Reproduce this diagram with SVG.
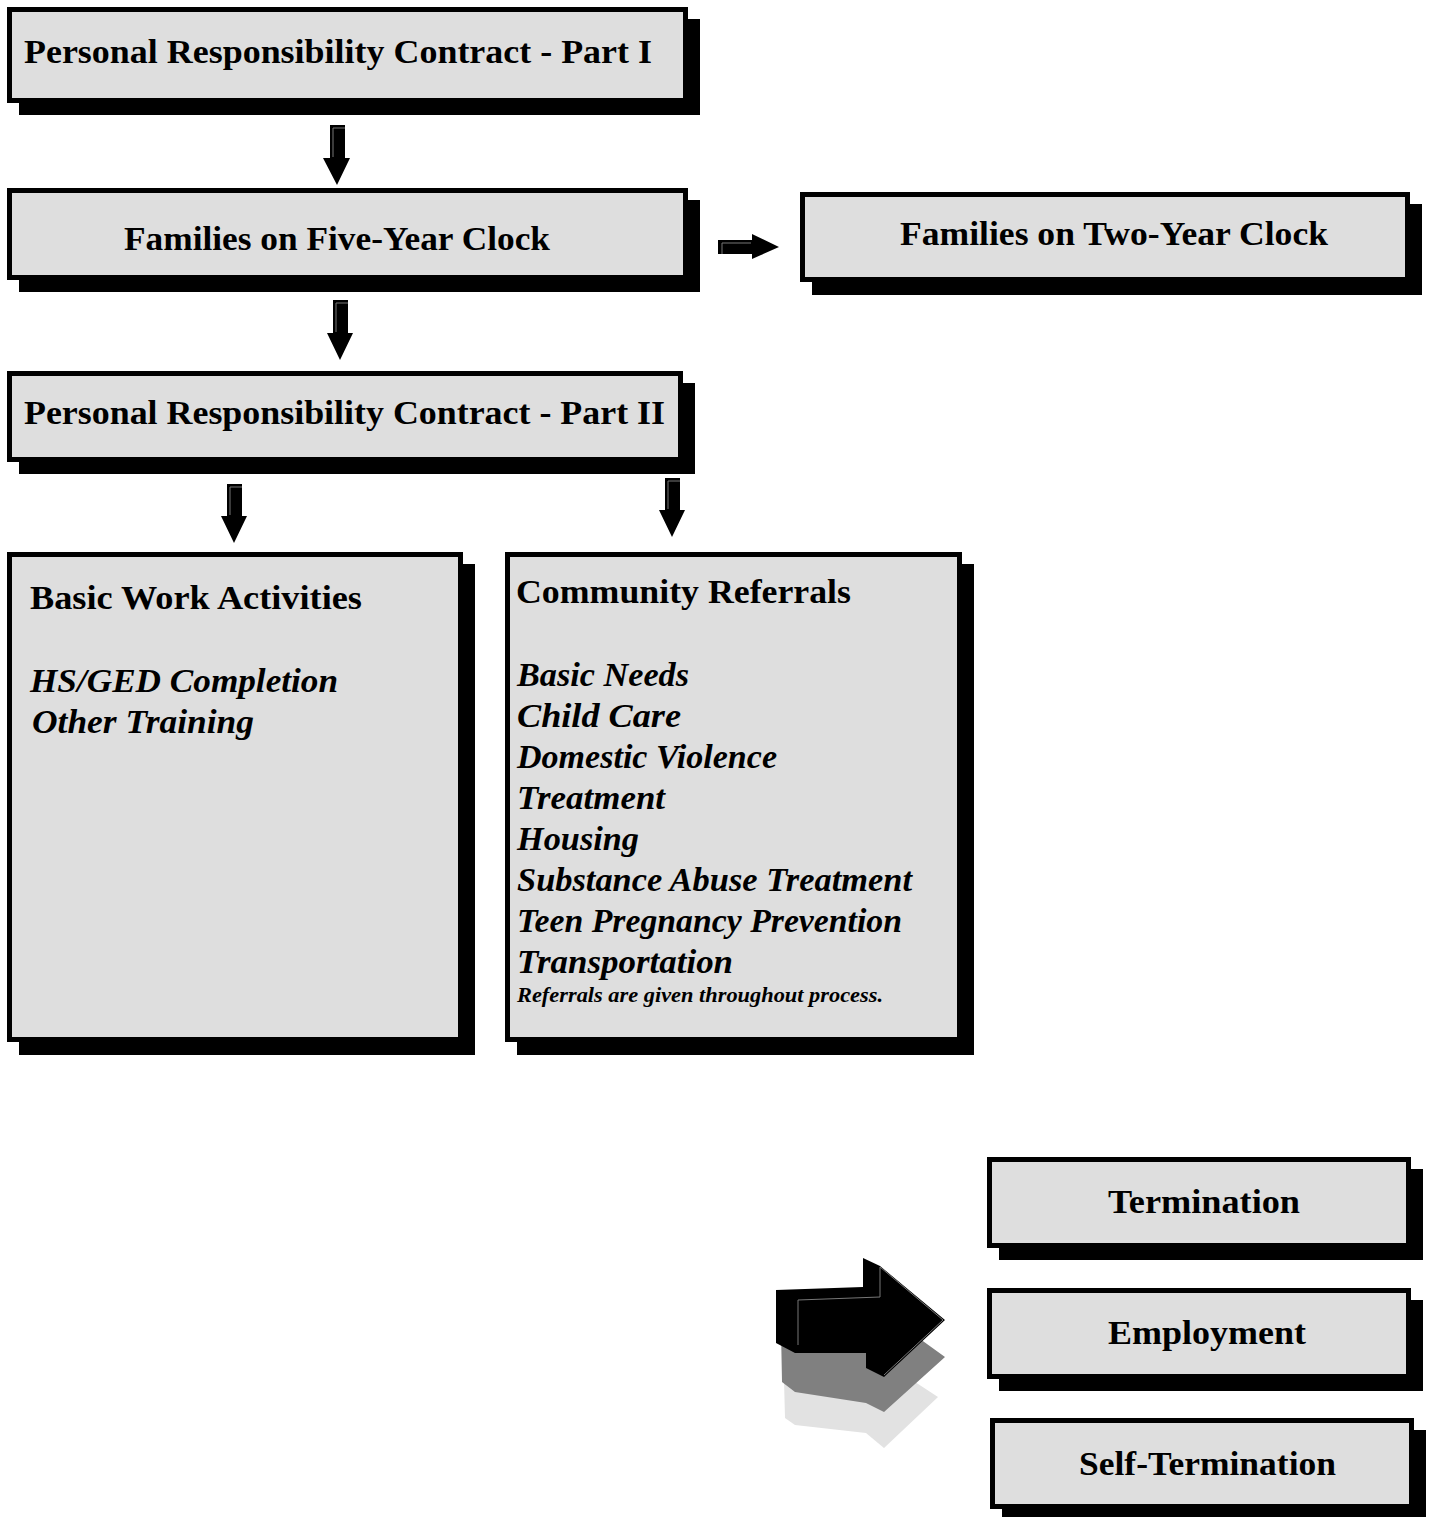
<svg xmlns="http://www.w3.org/2000/svg" width="1429" height="1517" viewBox="0 0 1429 1517">
<style>
.box{fill:#dedede;stroke:#000;stroke-width:5}
.sh{fill:#000}
.t{font-family:"Liberation Serif","Times New Roman",serif;font-weight:bold;font-size:33px;fill:#000}
.i{font-style:italic}
.s{font-size:20px}
.ar{fill:#000}
.hl{fill:none;stroke:#777;stroke-width:1}
</style>
<rect width="1429" height="1517" fill="#fff"/>

<g id="n1">
<rect class="sh" x="19" y="19" width="681" height="96"/>
<rect class="box" x="9.5" y="9.5" width="676" height="91"/>
<text class="t" x="24" y="63" textLength="628" lengthAdjust="spacingAndGlyphs" font-size="34">Personal Responsibility Contract - Part I</text>
</g>

<g id="n2">
<rect class="sh" x="19" y="200" width="681" height="92"/>
<rect class="box" x="9.5" y="190.5" width="676" height="87"/>
<text class="t" x="124" y="250" textLength="426" lengthAdjust="spacingAndGlyphs">Families on Five-Year Clock</text>
</g>

<g id="n3">
<rect class="sh" x="812" y="204" width="610" height="91"/>
<rect class="box" x="802.5" y="194.5" width="605" height="85"/>
<text class="t" x="900" y="245" textLength="428" lengthAdjust="spacingAndGlyphs">Families on Two-Year Clock</text>
</g>

<g id="n4">
<rect class="sh" x="19" y="383" width="676" height="91"/>
<rect class="box" x="9.5" y="373.5" width="671" height="86"/>
<text class="t" x="24" y="424" textLength="641" lengthAdjust="spacingAndGlyphs" font-size="34">Personal Responsibility Contract - Part II</text>
</g>

<g id="n5">
<rect class="sh" x="19" y="564" width="456" height="491"/>
<rect class="box" x="9.5" y="554.5" width="451" height="485"/>
<text class="t" x="30" y="609" textLength="332" lengthAdjust="spacingAndGlyphs">Basic Work Activities</text>
<text class="t i" x="30" y="692" textLength="308" lengthAdjust="spacingAndGlyphs">HS/GED Completion</text>
<text class="t i" x="32" y="733" textLength="222" lengthAdjust="spacingAndGlyphs">Other Training</text>
</g>

<g id="n6">
<rect class="sh" x="517" y="564" width="457" height="491"/>
<rect class="box" x="507.5" y="554.5" width="452" height="485"/>
<text class="t" x="516" y="603" textLength="335" lengthAdjust="spacingAndGlyphs">Community Referrals</text>
<text class="t i" x="517" y="686" textLength="172" lengthAdjust="spacingAndGlyphs">Basic Needs</text>
<text class="t i" x="517" y="727" textLength="164" lengthAdjust="spacingAndGlyphs">Child Care</text>
<text class="t i" x="517" y="768" textLength="260" lengthAdjust="spacingAndGlyphs">Domestic Violence</text>
<text class="t i" x="517" y="809" textLength="148" lengthAdjust="spacingAndGlyphs">Treatment</text>
<text class="t i" x="517" y="850" textLength="122" lengthAdjust="spacingAndGlyphs">Housing</text>
<text class="t i" x="517" y="891" textLength="395" lengthAdjust="spacingAndGlyphs">Substance Abuse Treatment</text>
<text class="t i" x="517" y="932" textLength="385" lengthAdjust="spacingAndGlyphs">Teen Pregnancy Prevention</text>
<text class="t i" x="517" y="973" textLength="216" lengthAdjust="spacingAndGlyphs">Transportation</text>
<text class="t i s" x="517" y="1002" textLength="366" lengthAdjust="spacingAndGlyphs">Referrals are given throughout process.</text>
</g>

<g id="n7">
<rect class="sh" x="999" y="1169" width="424" height="91"/>
<rect class="box" x="989.5" y="1159.5" width="419" height="86"/>
<text class="t" x="1108" y="1213" textLength="192" lengthAdjust="spacingAndGlyphs">Termination</text>
</g>

<g id="n8">
<rect class="sh" x="999" y="1300" width="424" height="91"/>
<rect class="box" x="989.5" y="1290.5" width="419" height="86"/>
<text class="t" x="1108" y="1344" textLength="198" lengthAdjust="spacingAndGlyphs">Employment</text>
</g>

<g id="n9">
<rect class="sh" x="1002" y="1430" width="424" height="87"/>
<rect class="box" x="992.5" y="1420.5" width="419" height="86"/>
<text class="t" x="1079" y="1475" textLength="257" lengthAdjust="spacingAndGlyphs">Self-Termination</text>
</g>

<g id="connectors">
<g id="a1">
<polygon class="ar" points="330,125 345,125 345,158 350,158 337,185 323,158 330,158"/>
<polyline class="hl" points="333,157 333,128 345,128"/>
</g>
<g id="a2">
<polygon class="ar" points="333,300 348,300 348,333 353,333 340,360 327,333 333,333"/>
<polyline class="hl" points="336,332 336,303 348,303"/>
</g>
<g id="a3">
<polygon class="ar" points="227,484 242,484 242,516 247,516 234,543 221,516 227,516"/>
<polyline class="hl" points="230,515 230,487 242,487"/>
</g>
<g id="a4">
<polygon class="ar" points="665,478 680,478 680,510 685,510 672,537 659,510 665,510"/>
<polyline class="hl" points="668,509 668,481 680,481"/>
</g>
<g id="a5">
<polygon class="ar" points="718,240 752,240 752,234 779,247 752,259 752,254 718,254"/>
<polyline class="hl" points="751,243 722,243 722,254"/>
</g>
<g id="bigarrow">
<polygon fill="#e2e2e2" points="784,1380 866,1380 866,1350 938,1397 884,1448 866,1433 795,1425 785,1418"/>
<polygon fill="#808080" points="781,1330 866,1330 866,1300 945,1357 884,1412 866,1403 795,1392 782,1382"/>
<polygon fill="#000" points="776,1290 863,1287 863,1258 880,1266 945,1320 884,1377 866,1368 866,1353 795,1353 776,1343"/>
<polyline class="hl" points="798,1345 798,1300 880,1297 880,1267"/>
<polyline class="hl" points="880,1267 943,1320 884,1375"/>
</g>
</g>
</svg>
